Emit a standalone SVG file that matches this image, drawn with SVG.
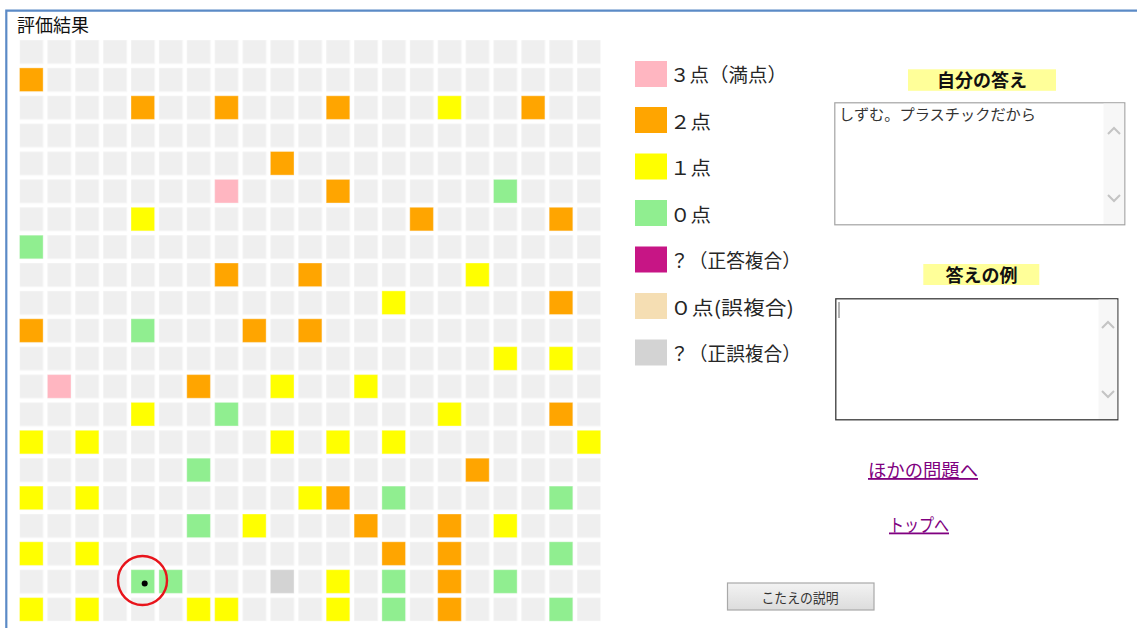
<svg xmlns="http://www.w3.org/2000/svg" xmlns:xlink="http://www.w3.org/1999/xlink" width="1137" height="628" viewBox="0 0 1137 628">
<style>
text{font-family:"Noto Sans CJK JP","Noto Sans",sans-serif;}
.c{stroke:#ffffff;stroke-opacity:0.35;stroke-width:1}
.o{fill:#ffa500}.y{fill:#ffff00}.g{fill:#90ee90}.p{fill:#ffb6c1}.s{fill:#d3d3d3}.m{fill:#c71585}.w{fill:#f5deb3}
.lg{font-size:19px;fill:#262626}
.hd{font-size:18px;font-weight:bold;fill:#111}
.lk{font-size:18px;fill:#800080;text-decoration:underline}
.chev{fill:none;stroke:#c4c4c4;stroke-width:2}
</style>
<defs>
<pattern id="gridpat" patternUnits="userSpaceOnUse" x="19.5" y="40" width="27.88" height="27.88">
<rect x="0" y="0" width="23.6" height="23.6" fill="#efefef" stroke="#f6f6f6" stroke-width="1"/>
</pattern>
<linearGradient id="btn" x1="0" y1="0" x2="0" y2="1">
<stop offset="0" stop-color="#f3f3f3"/><stop offset="1" stop-color="#dcdcdc"/>
</linearGradient>
</defs>
<rect x="0" y="0" width="1137" height="628" fill="#ffffff"/>
<g id="frame" fill="none" stroke="#5b8ac6" stroke-width="2.2">
<path d="M6.3 628 V10.6 H1137"/>
</g>
<g id="title"><text x="17" y="32" font-size="18" fill="#111">評価結果</text></g>
<g id="grid">
<rect x="19.5" y="40" width="581.2" height="581.2" fill="url(#gridpat)"/>
<g id="cells">
<rect class="c o" x="19.5" y="67.9" width="23.6" height="23.6"/>
<rect class="c o" x="131" y="95.8" width="23.6" height="23.6"/>
<rect class="c o" x="214.7" y="95.8" width="23.6" height="23.6"/>
<rect class="c o" x="326.2" y="95.8" width="23.6" height="23.6"/>
<rect class="c y" x="437.7" y="95.8" width="23.6" height="23.6"/>
<rect class="c o" x="521.3" y="95.8" width="23.6" height="23.6"/>
<rect class="c o" x="270.4" y="151.5" width="23.6" height="23.6"/>
<rect class="c p" x="214.7" y="179.4" width="23.6" height="23.6"/>
<rect class="c o" x="326.2" y="179.4" width="23.6" height="23.6"/>
<rect class="c g" x="493.5" y="179.4" width="23.6" height="23.6"/>
<rect class="c y" x="131" y="207.3" width="23.6" height="23.6"/>
<rect class="c o" x="409.8" y="207.3" width="23.6" height="23.6"/>
<rect class="c o" x="549.2" y="207.3" width="23.6" height="23.6"/>
<rect class="c g" x="19.5" y="235.2" width="23.6" height="23.6"/>
<rect class="c o" x="214.7" y="263" width="23.6" height="23.6"/>
<rect class="c o" x="298.3" y="263" width="23.6" height="23.6"/>
<rect class="c y" x="465.6" y="263" width="23.6" height="23.6"/>
<rect class="c y" x="381.9" y="290.9" width="23.6" height="23.6"/>
<rect class="c o" x="549.2" y="290.9" width="23.6" height="23.6"/>
<rect class="c o" x="19.5" y="318.8" width="23.6" height="23.6"/>
<rect class="c g" x="131" y="318.8" width="23.6" height="23.6"/>
<rect class="c o" x="242.5" y="318.8" width="23.6" height="23.6"/>
<rect class="c o" x="298.3" y="318.8" width="23.6" height="23.6"/>
<rect class="c y" x="493.5" y="346.7" width="23.6" height="23.6"/>
<rect class="c y" x="549.2" y="346.7" width="23.6" height="23.6"/>
<rect class="c p" x="47.4" y="374.6" width="23.6" height="23.6"/>
<rect class="c o" x="186.8" y="374.6" width="23.6" height="23.6"/>
<rect class="c y" x="270.4" y="374.6" width="23.6" height="23.6"/>
<rect class="c y" x="354.1" y="374.6" width="23.6" height="23.6"/>
<rect class="c y" x="131" y="402.4" width="23.6" height="23.6"/>
<rect class="c g" x="214.7" y="402.4" width="23.6" height="23.6"/>
<rect class="c y" x="437.7" y="402.4" width="23.6" height="23.6"/>
<rect class="c o" x="549.2" y="402.4" width="23.6" height="23.6"/>
<rect class="c y" x="19.5" y="430.3" width="23.6" height="23.6"/>
<rect class="c y" x="75.3" y="430.3" width="23.6" height="23.6"/>
<rect class="c y" x="270.4" y="430.3" width="23.6" height="23.6"/>
<rect class="c y" x="326.2" y="430.3" width="23.6" height="23.6"/>
<rect class="c y" x="381.9" y="430.3" width="23.6" height="23.6"/>
<rect class="c y" x="577.1" y="430.3" width="23.6" height="23.6"/>
<rect class="c g" x="186.8" y="458.2" width="23.6" height="23.6"/>
<rect class="c o" x="465.6" y="458.2" width="23.6" height="23.6"/>
<rect class="c y" x="19.5" y="486.1" width="23.6" height="23.6"/>
<rect class="c y" x="75.3" y="486.1" width="23.6" height="23.6"/>
<rect class="c y" x="298.3" y="486.1" width="23.6" height="23.6"/>
<rect class="c o" x="326.2" y="486.1" width="23.6" height="23.6"/>
<rect class="c g" x="381.9" y="486.1" width="23.6" height="23.6"/>
<rect class="c g" x="549.2" y="486.1" width="23.6" height="23.6"/>
<rect class="c g" x="186.8" y="514" width="23.6" height="23.6"/>
<rect class="c y" x="242.5" y="514" width="23.6" height="23.6"/>
<rect class="c o" x="354.1" y="514" width="23.6" height="23.6"/>
<rect class="c o" x="437.7" y="514" width="23.6" height="23.6"/>
<rect class="c y" x="493.5" y="514" width="23.6" height="23.6"/>
<rect class="c y" x="19.5" y="541.8" width="23.6" height="23.6"/>
<rect class="c y" x="75.3" y="541.8" width="23.6" height="23.6"/>
<rect class="c o" x="381.9" y="541.8" width="23.6" height="23.6"/>
<rect class="c o" x="437.7" y="541.8" width="23.6" height="23.6"/>
<rect class="c g" x="549.2" y="541.8" width="23.6" height="23.6"/>
<rect class="c g" x="131" y="569.7" width="23.6" height="23.6"/>
<rect class="c g" x="158.9" y="569.7" width="23.6" height="23.6"/>
<rect class="c s" x="270.4" y="569.7" width="23.6" height="23.6"/>
<rect class="c y" x="326.2" y="569.7" width="23.6" height="23.6"/>
<rect class="c g" x="381.9" y="569.7" width="23.6" height="23.6"/>
<rect class="c o" x="437.7" y="569.7" width="23.6" height="23.6"/>
<rect class="c g" x="493.5" y="569.7" width="23.6" height="23.6"/>
<rect class="c y" x="19.5" y="597.6" width="23.6" height="23.6"/>
<rect class="c y" x="75.3" y="597.6" width="23.6" height="23.6"/>
<rect class="c y" x="186.8" y="597.6" width="23.6" height="23.6"/>
<rect class="c y" x="214.7" y="597.6" width="23.6" height="23.6"/>
<rect class="c y" x="326.2" y="597.6" width="23.6" height="23.6"/>
<rect class="c g" x="381.9" y="597.6" width="23.6" height="23.6"/>
<rect class="c o" x="437.7" y="597.6" width="23.6" height="23.6"/>
<rect class="c g" x="549.2" y="597.6" width="23.6" height="23.6"/>
</g>
<g id="marker">
<circle cx="142.5" cy="580.5" r="24.5" fill="none" stroke="#e8141b" stroke-width="2.4"/>
<circle cx="144.7" cy="583.5" r="3" fill="#000"/>
</g>
</g>
<g id="legend">
<g id="lg3"><rect class="p" x="635" y="61" width="32" height="26"/><text class="lg" x="670" y="82" textLength="117" lengthAdjust="spacingAndGlyphs">３点（満点）</text></g>
<g id="lg2"><rect class="o" x="635" y="107" width="32" height="26"/><text class="lg" x="670" y="128.5" textLength="41" lengthAdjust="spacingAndGlyphs">２点</text></g>
<g id="lg1"><rect class="y" x="635" y="153.5" width="32" height="26"/><text class="lg" x="670" y="175" textLength="41" lengthAdjust="spacingAndGlyphs">１点</text></g>
<g id="lg0"><rect class="g" x="635" y="200" width="32" height="26"/><text class="lg" x="670" y="221.5" textLength="41" lengthAdjust="spacingAndGlyphs">０点</text></g>
<g id="lgq"><rect class="m" x="635" y="246.5" width="32" height="26"/><text class="lg" x="670" y="268" textLength="131" lengthAdjust="spacingAndGlyphs">？（正答複合）</text></g>
<g id="lgw"><rect class="w" x="635" y="293" width="32" height="26"/><text class="lg" x="670" y="314.5" textLength="124" lengthAdjust="spacingAndGlyphs">０点(誤複合)</text></g>
<g id="lgs"><rect class="s" x="635" y="339.5" width="32" height="26"/><text class="lg" x="670" y="361" textLength="131" lengthAdjust="spacingAndGlyphs">？（正誤複合）</text></g>
</g>
<g id="own-answer">
<rect x="908" y="69.3" width="148" height="21.5" fill="#ffff99"/>
<text class="hd" x="982" y="87" text-anchor="middle">自分の答え</text>
<rect x="834.8" y="102.8" width="290" height="122" fill="#ffffff" stroke="#a3a3a3" stroke-width="1.2"/>
<rect x="1103.5" y="103.6" width="20.6" height="120.4" fill="#f7f7f7"/>
<path class="chev" d="M1108 134 L1114 128 L1120 134"/>
<path class="chev" d="M1108 195 L1114 201 L1120 195"/>
<text x="839" y="120" font-size="15" fill="#333" textLength="197" lengthAdjust="spacingAndGlyphs">しずむ。プラスチックだから</text>
</g>
<g id="example-answer">
<rect x="923.3" y="264" width="116" height="21" fill="#ffff99"/>
<text class="hd" x="981.5" y="282" text-anchor="middle">答えの例</text>
<rect x="835.8" y="298.8" width="282" height="121" fill="#ffffff" stroke="#3a3a3a" stroke-width="1.3"/>
<rect x="1098.5" y="299.6" width="18.8" height="119.4" fill="#f7f7f7"/>
<path class="chev" d="M1102 328 L1108 322 L1114 328"/>
<path class="chev" d="M1102 391 L1108 397 L1114 391"/>
<line x1="839" y1="302" x2="839" y2="318" stroke="#666" stroke-width="1"/>
</g>
<g id="link-other"><text class="lk" x="923" y="477" text-anchor="middle" textLength="110" lengthAdjust="spacingAndGlyphs">ほかの問題へ</text></g>
<g id="link-top"><text class="lk" x="919" y="531.5" text-anchor="middle" textLength="60" lengthAdjust="spacingAndGlyphs">トップへ</text></g>
<g id="explain-button">
<rect x="727.5" y="583" width="146.5" height="27" fill="url(#btn)" stroke="#a9a9a9" stroke-width="1.2"/>
<text x="800" y="603" font-size="14" fill="#333" text-anchor="middle" textLength="77" lengthAdjust="spacingAndGlyphs">こたえの説明</text>
</g>
</svg>
